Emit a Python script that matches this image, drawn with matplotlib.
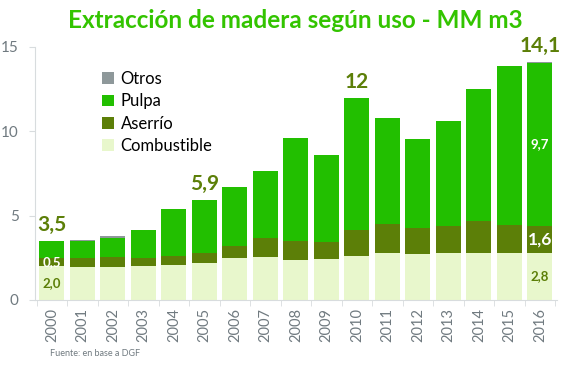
import matplotlib
matplotlib.use("Agg")
import matplotlib.pyplot as plt
import numpy as np

years = [str(y) for y in range(2000, 2017)]
combustible = [2.0, 1.95, 1.97, 2.02, 2.06, 2.2, 2.46, 2.56, 2.38, 2.42, 2.6, 2.76, 2.7, 2.76, 2.76, 2.78, 2.8]
aserrio = [0.5, 0.55, 0.58, 0.47, 0.53, 0.57, 0.72, 1.12, 1.12, 1.01, 1.55, 1.76, 1.59, 1.61, 1.93, 1.69, 1.6]
pulpa = [0.98, 1.0, 1.15, 1.66, 2.81, 3.14, 3.54, 3.97, 6.09, 5.14, 7.85, 6.25, 5.26, 6.22, 7.81, 9.38, 9.68]
otros = [0.02, 0.05, 0.08, 0.0, 0.0, 0.0, 0.0, 0.0, 0.0, 0.0, 0.0, 0.0, 0.0, 0.0, 0.02, 0.0, 0.02]
top_labels = {0: "3,5", 5: "5,9", 10: "12", 16: "14,1"}
yticks = [0, 5, 10, 15]

plt.rcParams['font.family'] = ['Lato', 'DejaVu Sans']

c_comb = "#E8F7CC"
c_aser = "#5C7F08"
c_pulp = "#22BF00"
c_otro = "#8E989A"
olive = "#5C7F08"
gray = "#707A80"

fig = plt.figure(figsize=(5.68, 3.73), dpi=100)
ax = fig.add_axes([0.062, 0.196, 0.918, 0.678])

x = np.arange(len(years))
w = 0.82
comb = np.array(combustible); aser = np.array(aserrio); pulp = np.array(pulpa); otr = np.array(otros)
ax.bar(x, comb, w, color=c_comb, label="Combustible", zorder=2)
ax.bar(x, aser, w, bottom=comb, color=c_aser, label="Aserrío", zorder=2)
ax.bar(x, pulp, w, bottom=comb + aser, color=c_pulp, label="Pulpa", zorder=2)
ax.bar(x, otr, w, bottom=comb + aser + pulp, color=c_otro, label="Otros", zorder=2)

tot = comb + aser + pulp + otr
for i, s in top_labels.items():
    ax.text(x[i], tot[i] + 0.35, s, ha="center", va="bottom", color=olive,
            fontsize=15, fontweight="bold")

# inner labels
ax.text(x[0], comb[0] + aser[0] / 2, "0,5", ha="center", va="center", color="white", fontsize=9.5, fontweight="bold")
ax.text(x[0], comb[0] / 2, "2,0", ha="center", va="center", color=olive, fontsize=9.5, fontweight="bold")
ax.text(x[16], comb[16] + aser[16] + pulp[16] / 2, "9,7", ha="center", va="center", color="white", fontsize=9.5, fontweight="bold")
ax.text(x[16], comb[16] + aser[16] / 2, "1,6", ha="center", va="center", color="white", fontsize=12.5, fontweight="bold")
ax.text(x[16], comb[16] / 2, "2,8", ha="center", va="center", color=olive, fontsize=9.5, fontweight="bold")

ax.set_xlim(-0.55, 16.55)
ax.set_ylim(0, 15)
ax.set_yticks(yticks)
ax.set_yticklabels([str(t) for t in yticks], fontsize=11, color=gray)
ax.set_xticks(x)
ax.set_xticklabels(years, rotation=90, fontsize=10.5, color=gray)
ax.tick_params(axis="x", length=0, pad=6)
ax.set_xticks(np.arange(-0.5, 17, 1), minor=True)
ax.tick_params(axis="x", which="minor", length=4, color="#D8DCDE")
ax.tick_params(axis="y", length=4, color="#D8DCDE", pad=8)
for sp in ["top", "right"]:
    ax.spines[sp].set_visible(False)
ax.spines["left"].set_color("#D8DCDE")
ax.spines["bottom"].set_color("#D8DCDE")

h, l = ax.get_legend_handles_labels()
leg = ax.legend(h[::-1], l[::-1], loc="upper left", bbox_to_anchor=(0.1, 0.965), frameon=False,
                fontsize=12, handlelength=0.7, handleheight=0.7, handletextpad=0.4, labelspacing=0.38)

fig.text(0.52, 0.946, "Extracción de madera según uso - MM m3", ha="center", va="center",
         color="#33C400", fontsize=17.5, fontweight="bold")
fig.text(0.088, 0.052, "Fuente: en base a DGF", ha="left", va="center", color=gray, fontsize=6.5)

fig.savefig("out.png", dpi=100)
